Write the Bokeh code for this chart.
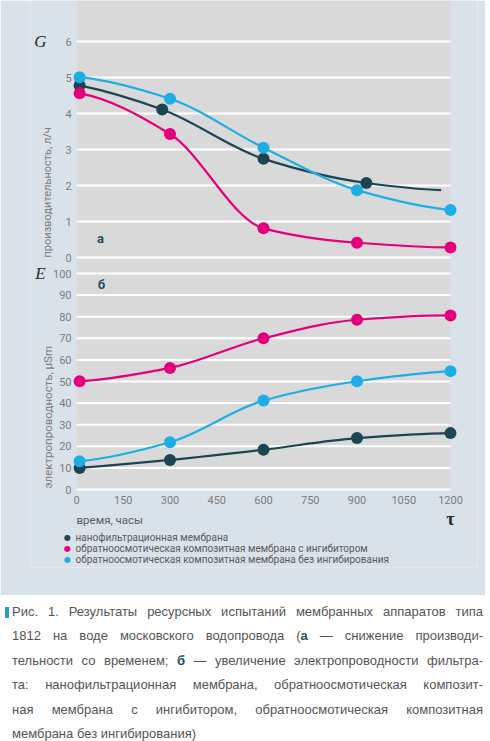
import math
from bokeh.plotting import figure
from bokeh.models import Range1d, FixedTicker, Label, Div, LinearAxis
from bokeh.layouts import column
from bokeh.embed import file_html
from bokeh.resources import INLINE

# ---------------- data ----------------
time_ticks = [0, 150, 300, 450, 600, 750, 900, 1050, 1200]
g_ticks = [0, 1, 2, 3, 4, 5, 6]
e_ticks = [0, 10, 20, 30, 40, 50, 60, 70, 80, 90, 100]

# (а) производительность G, л/ч
g_nano_t = [10, 275, 600, 930]
g_nano = [4.78, 4.11, 2.74, 2.07]
g_nano_line_t = [10, 275, 600, 930, 1170]
g_nano_line = [4.78, 4.11, 2.74, 2.07, 1.87]
g_t = [10, 300, 600, 900, 1200]
g_inh = [4.56, 3.43, 0.81, 0.41, 0.28]
g_noinh = [5.01, 4.41, 3.05, 1.87, 1.32]

# (б) электропроводность E, µSm
e_t = [10, 300, 600, 900, 1200]
e_nano = [10.0, 13.7, 18.4, 23.8, 26.1]
e_inh = [50.1, 56.3, 70.0, 78.6, 80.6]
e_noinh = [13.1, 21.9, 41.2, 50.1, 54.8]

legend_labels = [
    "нанофильтрационная мембрана",
    "обратноосмотическая композитная мембрана с ингибитором",
    "обратноосмотическая композитная мембрана без ингибирования",
]

# ---------------- style ----------------
PANEL = "#dae2e9"
PLOTBG = "#d9d9d9"
NANO = "#1b4555"
INH = "#e4007c"
NOINH = "#1eaee6"
TICKC = "#7c7c7c"
TXT = "#5a5a5a"
TEAL = "#1d4e61"
FONT = "Roboto"

W, H = 485, 595
FL, FR, FB = 30, 8, 28           # frame borders (left, right, bottom)
X0PX, X1PX = 76, 450             # where time 0 and 1200 sit
PXU = (X1PX - X0PX) / 1200.0
E0PX, E100PX = 489, 273          # E = 0 / 100
G0PX, G6PX = 257, 41             # G = 0 / 6
frame_bottom = H - FB


def tangents(xs, ys):
    n = len(xs)
    h = [xs[i + 1] - xs[i] for i in range(n - 1)]
    d = [(ys[i + 1] - ys[i]) / h[i] for i in range(n - 1)]
    m = [0.0] * n
    for k in range(1, n - 1):
        if d[k - 1] * d[k] > 0:
            w1 = 2 * h[k] + h[k - 1]
            w2 = h[k] + 2 * h[k - 1]
            m[k] = (w1 + w2) / (w1 / d[k - 1] + w2 / d[k])

    def end(h0, h1, d0, d1):
        v = ((2 * h0 + h1) * d0 - h0 * d1) / (h0 + h1)
        if v * d0 <= 0:
            return 0.0
        if d0 * d1 < 0 and abs(v) > 3 * abs(d0):
            return 3 * d0
        return v

    m[0] = end(h[0], h[1], d[0], d[1])
    m[-1] = end(h[-1], h[-2], d[-1], d[-2])
    return m


def smooth(p, xs, ys, color, **kw):
    m = tangents(xs, ys)
    x0, y0, x1, y1, cx0, cy0, cx1, cy1 = [], [], [], [], [], [], [], []
    for i in range(len(xs) - 1):
        h = xs[i + 1] - xs[i]
        x0.append(xs[i]); y0.append(ys[i])
        x1.append(xs[i + 1]); y1.append(ys[i + 1])
        cx0.append(xs[i] + h / 3); cy0.append(ys[i] + m[i] * h / 3)
        cx1.append(xs[i + 1] - h / 3); cy1.append(ys[i + 1] - m[i + 1] * h / 3)
    p.bezier(x0=x0, y0=y0, x1=x1, y1=y1, cx0=cx0, cy0=cy0, cx1=cx1, cy1=cy1,
             line_color=color, line_width=2.2, **kw)


def grid(p, ticks, **kw):
    n = len(ticks)
    p.segment(x0=[time_ticks[0]] * n, x1=[time_ticks[-1]] * n, y0=list(ticks), y1=list(ticks),
              line_color="#ffffff", line_width=2, **kw)


def style_axis(ax, ticks, standoff):
    ax.ticker = FixedTicker(ticks=ticks)
    ax.axis_line_color = None
    ax.major_tick_line_color = None
    ax.minor_tick_line_color = None
    ax.major_tick_in = 0
    ax.major_tick_out = 0
    ax.major_label_standoff = standoff
    ax.major_label_text_font = FONT
    ax.major_label_text_font_size = "11px"
    ax.major_label_text_color = TICKC


def lab(p, px, py, text, size="12px", color=TXT, font=FONT, style="normal", align="left",
        baseline="middle", angle=0):
    p.add_layout(Label(x=px - FL, y=frame_bottom - py, x_units="screen", y_units="screen",
                       text=text, text_font=font, text_font_size=size, text_color=color,
                       text_font_style=style, text_align=align, text_baseline=baseline,
                       angle=angle))


# ranges: library scales map data to the frame
x_range = Range1d(-(X0PX - FL) / PXU, 1200 + (W - FR - X1PX) / PXU)
e_pu = (E0PX - E100PX) / 100.0
g_pu = (G0PX - G6PX) / 6.0
e_range = Range1d(-(frame_bottom - E0PX) / e_pu, 100 + E100PX / e_pu)
g_range = Range1d(-(frame_bottom - G0PX) / g_pu, 6 + G6PX / g_pu)

p = figure(width=W, height=H, x_range=x_range, y_range=e_range,
           output_backend="svg", toolbar_location=None, y_axis_location=None,
           min_border_left=FL, min_border_right=FR, min_border_top=0, min_border_bottom=FB,
           background_fill_color=PANEL, border_fill_color=PANEL, outline_line_color=None)
p.extra_y_ranges = {"G": g_range}
p.grid.visible = False

# plot area and grid lines
p.quad(left=[time_ticks[0]], right=[time_ticks[-1]], bottom=[e_ticks[0]], top=[e_range.end],
       fill_color=PLOTBG, line_color=None, level="image")
grid(p, e_ticks)
grid(p, g_ticks, y_range_name="G")

# axes
xa = p.xaxis[0]
style_axis(xa, time_ticks, 6)
xa.fixed_location = e_ticks[0]

ea = LinearAxis()
style_axis(ea, e_ticks, 5)
ea.fixed_location = time_ticks[0]
p.add_layout(ea, "left")

ga = LinearAxis(y_range_name="G")
style_axis(ga, g_ticks, -11)
ga.fixed_location = time_ticks[0]
p.add_layout(ga, "right")

# curves
smooth(p, g_nano_line_t, g_nano_line, NANO, y_range_name="G")
smooth(p, g_t, g_inh, INH, y_range_name="G")
smooth(p, g_t, g_noinh, NOINH, y_range_name="G")
smooth(p, e_t, e_nano, NANO)
smooth(p, e_t, e_inh, INH)
smooth(p, e_t, e_noinh, NOINH)
p.scatter(g_nano_t, g_nano, size=12, fill_color=NANO, line_color=None, y_range_name="G")
p.scatter(g_t, g_inh, size=12, fill_color=INH, line_color=None, y_range_name="G")
p.scatter(g_t, g_noinh, size=12, fill_color=NOINH, line_color=None, y_range_name="G")
p.scatter(e_t, e_nano, size=12, fill_color=NANO, line_color=None)
p.scatter(e_t, e_inh, size=12, fill_color=INH, line_color=None)
p.scatter(e_t, e_noinh, size=12, fill_color=NOINH, line_color=None)

# texts
lab(p, 40, 41, "G", size="17px", color="#2b2b2b", font="Liberation Serif", style="italic",
    align="center")
lab(p, 47, 257, "производительность, л/ч", size="11px", color=TICKC, angle=math.pi / 2)
lab(p, 100, 238, "а", size="13px", color=TEAL, style="bold", align="center")
lab(p, 40, 273, "E", size="17px", color="#2b2b2b", font="Liberation Serif", style="italic",
    align="center")
lab(p, 47, 488, "электропроводность, µSm", size="11.5px", color=TICKC, angle=math.pi / 2)
lab(p, 101, 284, "б", size="13px", color=TEAL, style="bold", align="center")
lab(p, 76, 519, "время, часы", size="11.5px", color=TXT)
lab(p, 450, 518, "τ", size="18px", color="#2b2b2b", font="Liberation Serif", style="bold",
    align="center")
for i, (txt, col) in enumerate(zip(legend_labels, [NANO, INH, NOINH])):
    lab(p, 67, 537 + 11 * i, "●", size="8px", color=col, font="DejaVu Sans", align="center")
    lab(p, 75, 537 + 11 * i, txt, size="10px", color=TXT)

# ---------------- caption ----------------
line_style = ("text-align:justify;text-align-last:justify;white-space:nowrap;"
              "padding-left:7px;")
cap_lines = [
    "Рис. 1. Результаты ресурсных испытаний мембранных аппаратов типа",
    "1812 на воде московского водопровода (<b style='color:%s'>а</b> — снижение производи-" % TEAL,
    "тельности со временем; <b style='color:%s'>б</b> — увеличение электропроводности фильтра-" % TEAL,
    "та: нанофильтрационная мембрана, обратноосмотическая композит-",
    "ная мембрана с ингибитором, обратноосмотическая композитная",
    "мембрана без ингибирования)",
]
html = ["<div style=\"font-family:'Liberation Sans',Arial,sans-serif;font-size:13px;"
        "line-height:24.4px;color:#555;width:478px;padding-top:0px;position:relative;\">"]
html.append("<span style='position:absolute;left:0;top:7px;width:4px;height:11px;"
            "background:#1ea3bb;'></span>")
for i, ln in enumerate(cap_lines):
    st = line_style if i < len(cap_lines) - 1 else "white-space:nowrap;padding-left:7px;"
    html.append("<div style=\"%s\">%s</div>" % (st, ln))
html.append("</div>")
cap = Div(text="".join(html), width=W, height=146)

layout = column(p, cap, spacing=0)
open("out.html", "w").write(file_html(layout, INLINE))
